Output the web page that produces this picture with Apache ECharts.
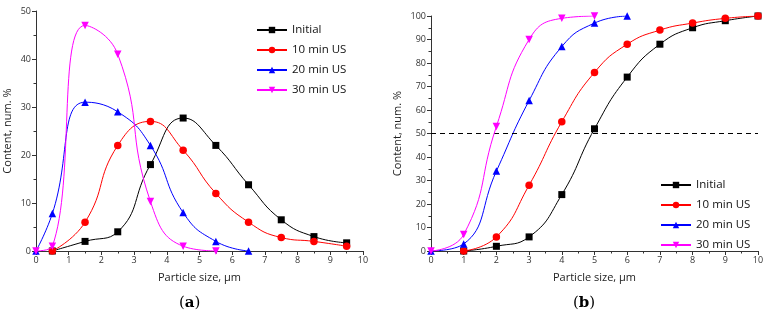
<!DOCTYPE html>
<html>
<head>
<meta charset="utf-8">
<script src="https://cdn.jsdelivr.net/npm/echarts@6/dist/echarts.min.js"></script>
<style>
  html, body { margin: 0; padding: 0; background: #fff; }
  #chart { width: 769px; height: 321px; }
</style>
</head>
<body>
<div id="chart"></div>
<script>
// (a) number distribution
const sizeA = [0, 0.5, 1.5, 2.5, 3.5, 4.5, 5.5, 6.5, 7.5, 8.5, 9.5];
const initialA = [null, 0, 2, 4, 18, 27.7, 22, 13.8, 6.5, 3, 1.7];
const us10A = [null, 0, 6, 22, 27, 21, 12, 6, 2.8, 2, 1];
const us20A = [0, 7.8, 31, 29, 22, 8, 2, 0, null, null, null];
const us30A = [0, 1, 47, 41, 10.3, 1, 0, null, null, null, null];

// (b) cumulative distribution
const sizeB = [0, 1, 2, 3, 4, 5, 6, 7, 8, 9, 10];
const initialB = [null, 0, 2, 6, 24, 52, 74, 88, 95, 98, 100];
const us10B = [null, 0, 6, 28, 55, 76, 88, 94, 97, 99, 100];
const us20B = [0, 3, 34, 64, 87, 97, 100, null, null, null, null];
const us30B = [0, 7, 53, 90, 99, 100, null, null, null, null, null];

const names = ['Initial', '10 min US', '20 min US', '30 min US'];
const colors = ['#000000', '#ff0000', '#0000ff', '#ff00ff'];
const symbols = ['rect', 'circle', 'triangle', 'triangle'];
const rotates = [0, 0, 0, 180];

const pairs = (xs, ys) => xs.map((x, i) => [x, ys[i]]).filter(p => p[1] !== null);

const font = 'Open Sans';

function xAxis(gridIndex) {
  return {
    type: 'value', gridIndex, min: 0, max: 10, interval: 1,
    name: 'Particle size, μm', nameLocation: 'middle', nameGap: 21,
    nameTextStyle: { fontFamily: font, fontSize: 11, color: '#222' },
    axisLine: { onZero: false, lineStyle: { color: '#333', width: 1 } },
    axisTick: { show: true, length: 4, lineStyle: { color: '#333' } },
    minorTick: { show: true, splitNumber: 2, length: 2.5, lineStyle: { color: '#333' } },
    axisLabel: { fontFamily: font, fontSize: 9, color: '#333', margin: 5 },
    splitLine: { show: false }
  };
}

function yAxis(gridIndex, max, interval, gap) {
  return {
    type: 'value', gridIndex, min: 0, max, interval,
    name: 'Content, num. %', nameLocation: 'middle', nameGap: gap,
    nameTextStyle: { fontFamily: font, fontSize: 11, color: '#222' },
    axisLine: { show: true, lineStyle: { color: '#333', width: 1 } },
    axisTick: { show: true, length: 4, lineStyle: { color: '#333' } },
    minorTick: { show: true, splitNumber: 2, length: 2.5, lineStyle: { color: '#333' } },
    axisLabel: { fontFamily: font, fontSize: 9, color: '#333', margin: 5 },
    splitLine: { show: false }
  };
}

function makeSeries(dataList, xs, idx) {
  return dataList.map((ys, i) => ({
    name: names[i], type: 'line', xAxisIndex: idx, yAxisIndex: idx,
    data: pairs(xs, ys), smooth: 0.5,
    symbol: symbols[i], symbolRotate: rotates[i], symbolSize: i === 0 ? 7 : 7.5,
    showAllSymbol: true,
    itemStyle: { color: colors[i] },
    lineStyle: { color: colors[i], width: 1 },
    z: 2 + i
  }));
}

const seriesA = makeSeries([initialA, us10A, us20A, us30A], sizeA, 0);
const seriesB = makeSeries([initialB, us10B, us20B, us30B], sizeB, 1);
seriesB[0].markLine = {
  silent: true, symbol: 'none', label: { show: false },
  lineStyle: { color: '#000', type: [5, 4], width: 1 },
  data: [{ yAxis: 50 }]
};

function legend(left, top) {
  return {
    orient: 'vertical', left, top, data: names,
    itemWidth: 30, itemHeight: 8, itemGap: 8,
    textStyle: { fontFamily: font, fontSize: 11.5, color: '#111' }
  };
}

const caption = letter => ({
  text: '{p|(}{b|' + letter + '}{p|)}',
  rich: {
    p: { fontFamily: 'DejaVu Serif', fontSize: 15, fill: '#000' },
    b: { fontFamily: 'DejaVu Serif', fontSize: 15, fontWeight: 'bold', fill: '#000' }
  }
});

const chart = echarts.init(document.getElementById('chart'));
chart.setOption({
  animation: false,
  backgroundColor: '#fff',
  grid: [
    { left: 36, right: 406, top: 11, bottom: 70 },
    { left: 431, right: 11, top: 16, bottom: 70 }
  ],
  xAxis: [xAxis(0), xAxis(1)],
  yAxis: [yAxis(0, 50, 10, 23), yAxis(1, 100, 10, 28)],
  legend: [legend(251, 19), legend(655, 174)],
  series: seriesA.concat(seriesB),
  graphic: [
    { type: 'text', left: 179, top: 296, style: caption('a') },
    { type: 'text', left: 573, top: 296, style: caption('b') }
  ]
});
</script>
</body>
</html>
